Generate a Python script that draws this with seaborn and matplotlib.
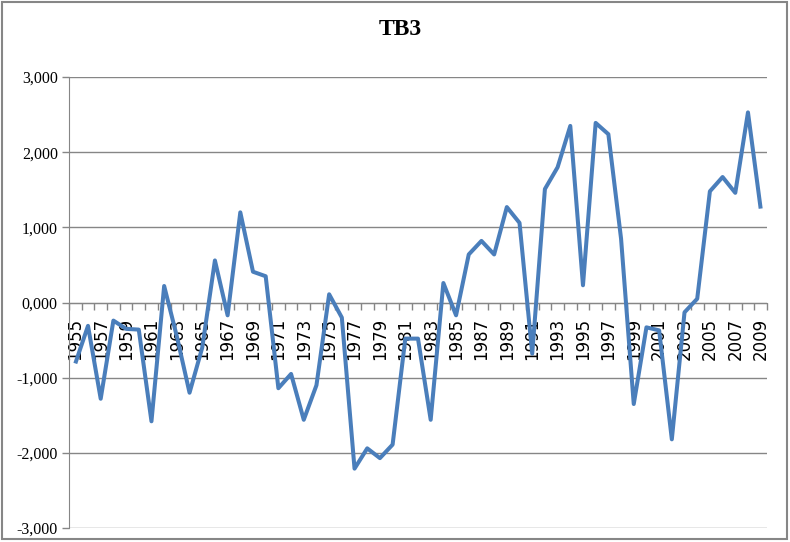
import numpy as np
import pandas as pd
import seaborn as sns
import matplotlib
matplotlib.use("Agg")
import matplotlib.pyplot as plt
from matplotlib.patches import Rectangle
from matplotlib.ticker import FixedLocator, FuncFormatter

# Datos
years = list(range(1955, 2010))
tb3 = [-0.81, -0.31, -1.28, -0.24, -0.35, -0.36, -1.58, 0.22, -0.45, -1.20,
       -0.60, 0.56, -0.17, 1.20, 0.41, 0.35, -1.14, -0.95, -1.56, -1.10,
       0.11, -0.20, -2.21, -1.94, -2.07, -1.89, -0.48, -0.48, -1.56, 0.26,
       -0.17, 0.64, 0.82, 0.64, 1.27, 1.06, -0.68, 1.51, 1.80, 2.35,
       0.23, 2.39, 2.24, 0.85, -1.35, -0.33, -0.37, -1.82, -0.13, 0.05,
       1.48, 1.67, 1.46, 2.53, 1.25]
y_ticks = [-3, -2, -1, 0, 1, 2, 3]
x_labels = years[::2]

df = pd.DataFrame({"year": years, "TB3": tb3})

sns.set_style("white")
plt.rcParams["font.family"] = ["DejaVu Sans"]

gris = "#868686"
azul = "#4A7EBB"

fig = plt.figure(figsize=(7.9, 5.42), dpi=100)
ax = fig.add_axes([0.0873, 0.0258, 0.8836, 0.832])

sns.lineplot(data=df, x="year", y="TB3", color=azul, lw=2.9, ax=ax, zorder=3,
             solid_joinstyle="round", solid_capstyle="butt")

ax.set_xlim(years[0] - 0.5, years[-1] + 0.5)
ax.set_ylim(-3, 3)

# Eje Y
ax.set_yticks(y_ticks)
ax.yaxis.set_major_formatter(FuncFormatter(lambda v, p: f"{v:.3f}".replace(".", ",")))
for lab in ax.get_yticklabels():
    lab.set_family("Liberation Serif")
    lab.set_fontsize(11.5)
ax.tick_params(axis="y", length=5, width=1, color=gris, pad=3, left=True,
               labelcolor="black")
ax.grid(axis="y", color=gris, lw=1)
ax.set_axisbelow(True)

# Eje X en y=0
ax.spines["bottom"].set_position(("data", 0))
ax.spines["bottom"].set_color(gris)
ax.spines["left"].set_color(gris)
ax.spines["top"].set_visible(False)
ax.spines["right"].set_visible(False)
ax.xaxis.set_major_locator(FixedLocator(x_labels))
ax.xaxis.set_minor_locator(FixedLocator(np.arange(years[0] - 0.5, years[-1] + 1)))
ax.set_xticklabels([str(y) for y in x_labels], rotation=90, fontsize=12, va="top")
ax.tick_params(axis="x", which="major", length=0, pad=11, labelcolor="black")
ax.tick_params(axis="x", which="minor", length=5, width=1, color=gris, bottom=True)
ax.set_xlabel("")
ax.set_ylabel("")

fig.text(0.507, 0.945, "TB3", ha="center", va="center", fontsize=17,
         fontweight="bold", family="Liberation Serif", color="black")

# Borde del gráfico
fig.patches.append(Rectangle((0.002, 0.006), 0.994, 0.991, transform=fig.transFigure,
                             fill=False, edgecolor=gris, lw=1.5))

fig.savefig("out.png", dpi=100)
